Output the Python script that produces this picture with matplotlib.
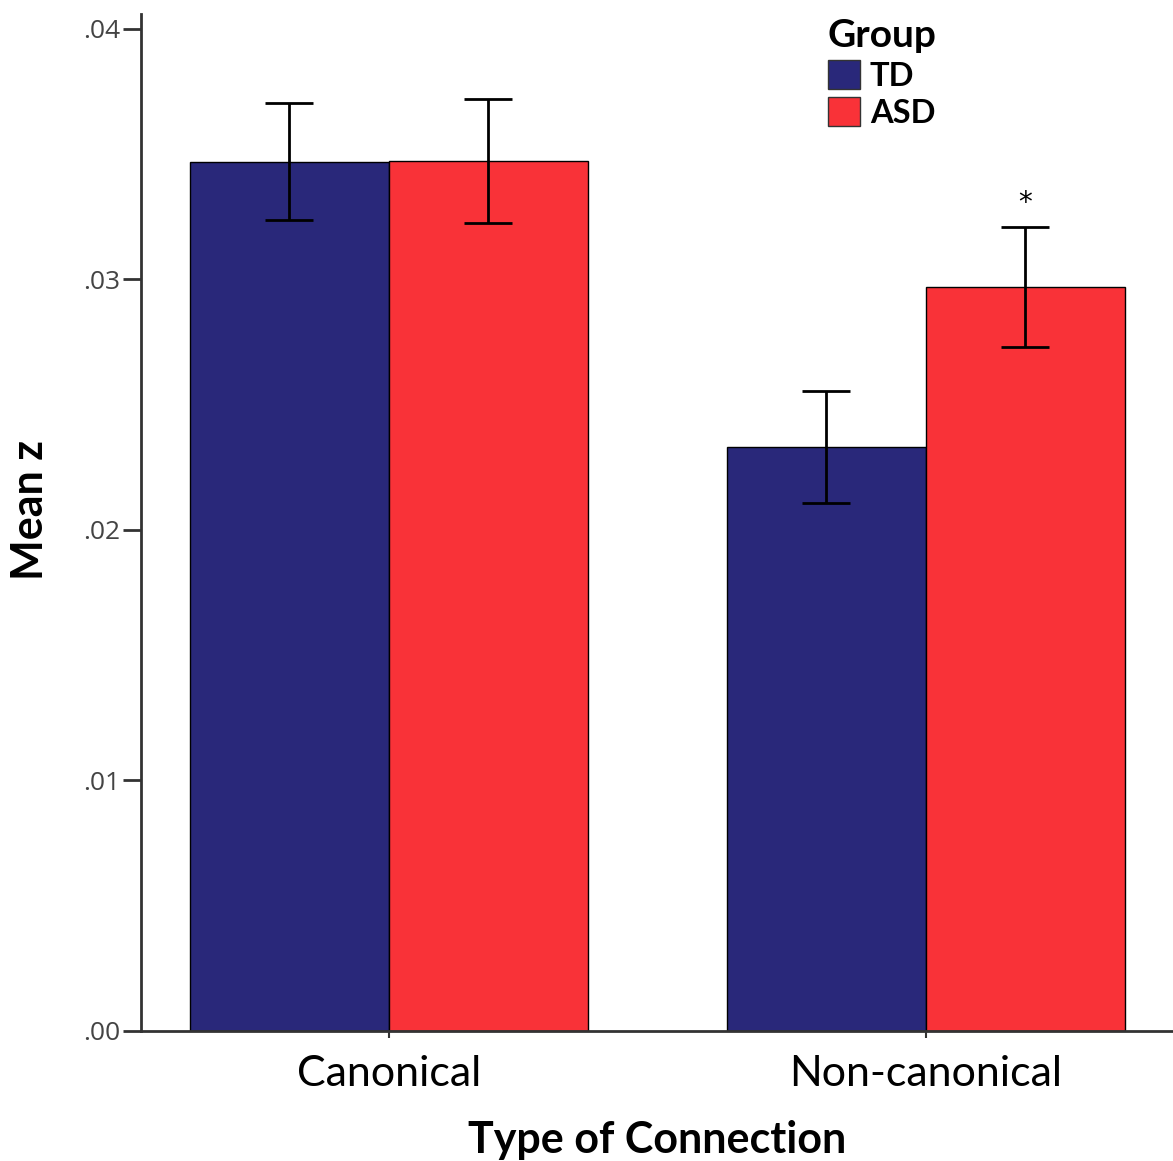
import matplotlib
matplotlib.use('Agg')
import numpy as np
from matplotlib import pyplot as plt
from matplotlib.patches import Patch

categories = ['Canonical', 'Non-canonical']
groups = ['TD', 'ASD']
td_means = [0.03470, 0.02331]
asd_means = [0.03473, 0.02970]
td_err = [0.00234, 0.00224]
asd_err = [0.00248, 0.00241]
yticks = [0.00, 0.01, 0.02, 0.03, 0.04]
ytick_labels = ['.00', '.01', '.02', '.03', '.04']

td_color = '#29287a'
asd_color = '#f93238'

plt.rcParams['font.family'] = ['Lato', 'DejaVu Sans']

fig = plt.figure(figsize=(11.73, 11.61), dpi=100)
ax = fig.add_axes([0.1202, 0.112, 0.8798, 0.876])

x = np.arange(len(categories))
w = 0.3706
err_kw = dict(ecolor='black', elinewidth=2, capsize=17, capthick=2)
ax.bar(x - w / 2, td_means, w, yerr=td_err, color=td_color, edgecolor='black',
       linewidth=1, error_kw=err_kw, label=groups[0])
ax.bar(x + w / 2, asd_means, w, yerr=asd_err, color=asd_color, edgecolor='black',
       linewidth=1, error_kw=err_kw, label=groups[1])

# significance marker over ASD non-canonical
ax.text(x[1] + w / 2, asd_means[1] + asd_err[1] + 0.0004, '*', ha='center', va='bottom',
        fontsize=20, family='DejaVu Sans')

ax.set_xlim(-0.4618, 1.46)
ax.set_ylim(0, 0.0406)

ax.set_yticks(yticks)
ax.set_yticklabels(ytick_labels, fontsize=19, color='#444444', family='Open Sans')
ax.tick_params(axis='y', direction='out', length=13, width=2, color='#333333', pad=2)
ax.set_xticks(x)
ax.set_xticklabels(categories, fontsize=31)
ax.tick_params(axis='x', direction='out', length=5, width=1.5, color='#333333', pad=12)

ax.spines['top'].set_visible(False)
ax.spines['right'].set_visible(False)
ax.spines['left'].set_linewidth(2)
ax.spines['bottom'].set_linewidth(2)
ax.spines['left'].set_color('#333333')
ax.spines['bottom'].set_color('#333333')

ax.set_ylabel('Mean z', fontsize=31, fontweight='bold', va='center')
ax.yaxis.set_label_coords(-0.108, 0.512)
ax.set_xlabel('Type of Connection', fontsize=31, fontweight='bold', labelpad=20)

handles = [Patch(facecolor=td_color, edgecolor='#333333'),
           Patch(facecolor=asd_color, edgecolor='#333333')]
leg = fig.legend(handles, groups, title='Group', loc='upper left',
                 bbox_to_anchor=(0.686, 1.004), frameon=False, fontsize=23.5,
                 title_fontproperties={'weight': 'bold', 'size': 28},
                 handlelength=1.0, handleheight=1.0, handletextpad=0.3,
                 labelspacing=0.2, alignment='left', borderpad=0.2)
for t in leg.get_texts():
    t.set_fontweight('bold')

fig.savefig('out.png', dpi=100)
